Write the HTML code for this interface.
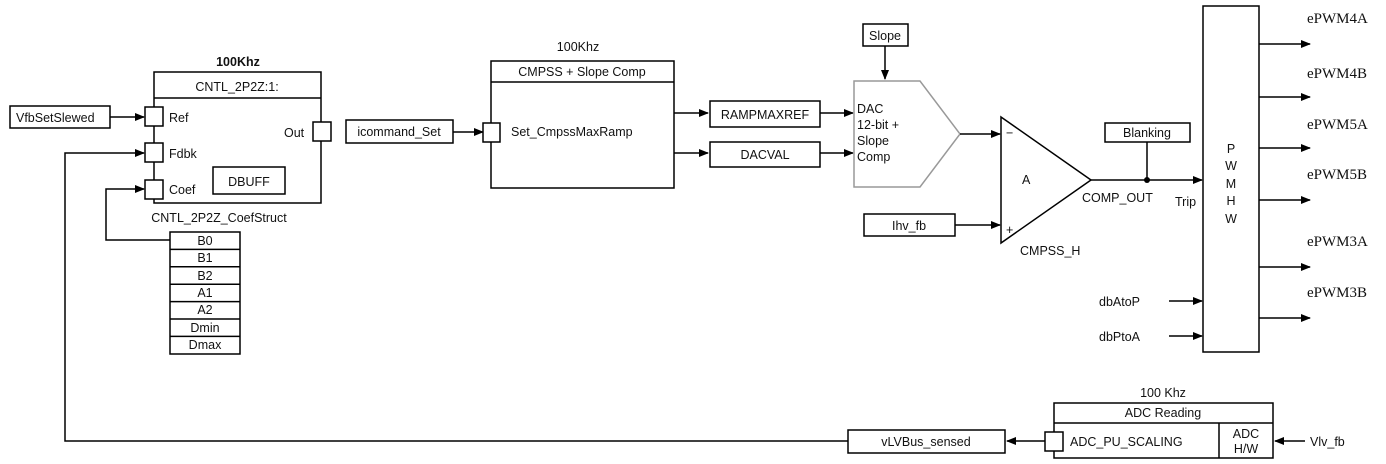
<!DOCTYPE html>
<html><head><style>body{margin:0;background:#fff}svg{display:block}text{font-family:"Liberation Sans",sans-serif;font-size:12.5px;fill:#111}.s{font-family:"Liberation Serif",serif;font-size:15px}</style></head><body>
<svg width="1386" height="464" viewBox="0 0 1386 464" xmlns="http://www.w3.org/2000/svg">
<defs><marker id="a" markerWidth="10" markerHeight="8" refX="9" refY="4" orient="auto" markerUnits="userSpaceOnUse"><path d="M0,0 L10,4 L0,8z" fill="#000"/></marker></defs>
<g fill="none" stroke="#000" stroke-width="1.5">
<rect x="10" y="106" width="100" height="22"/>
<line x1="110" y1="117" x2="144" y2="117" marker-end="url(#a)"/>
<rect x="154" y="72" width="167" height="131"/><line x1="154" y1="98" x2="321" y2="98"/>
<rect x="145" y="107" width="18" height="19" fill="#fff"/>
<rect x="145" y="143" width="18" height="19" fill="#fff"/>
<rect x="145" y="180" width="18" height="19" fill="#fff"/>
<rect x="313" y="122" width="18" height="19" fill="#fff"/>
<rect x="213" y="167" width="72" height="27"/>
<polyline points="170,240 106,240 106,189 144,189" marker-end="url(#a)"/>
<rect x="170" y="232" width="70" height="122"/>
<line x1="170" y1="249.4" x2="240" y2="249.4"/><line x1="170" y1="266.8" x2="240" y2="266.8"/><line x1="170" y1="284.2" x2="240" y2="284.2"/><line x1="170" y1="301.6" x2="240" y2="301.6"/><line x1="170" y1="319" x2="240" y2="319"/><line x1="170" y1="336.4" x2="240" y2="336.4"/>
<polyline points="848,441 65,441 65,153 144,153" marker-end="url(#a)"/>
<rect x="848" y="430" width="157" height="23"/>
<line x1="1045" y1="441" x2="1007" y2="441" marker-end="url(#a)"/>
<rect x="1054" y="403" width="219" height="55"/><line x1="1054" y1="423" x2="1273" y2="423"/><line x1="1219" y1="423" x2="1219" y2="458"/>
<rect x="1045" y="432" width="18" height="19" fill="#fff"/>
<line x1="1305" y1="441" x2="1275" y2="441" marker-end="url(#a)"/>
<rect x="346" y="120" width="107" height="23"/>
<line x1="453" y1="132" x2="483" y2="132" marker-end="url(#a)"/>
<rect x="491" y="61" width="183" height="127"/><line x1="491" y1="82" x2="674" y2="82"/>
<rect x="483" y="123" width="17" height="19" fill="#fff"/>
<line x1="674" y1="113" x2="708" y2="113" marker-end="url(#a)"/>
<line x1="674" y1="153" x2="708" y2="153" marker-end="url(#a)"/>
<rect x="710" y="101" width="110" height="26"/><rect x="710" y="142" width="110" height="25"/>
<line x1="820" y1="113" x2="853" y2="113" marker-end="url(#a)"/>
<line x1="820" y1="153" x2="853" y2="153" marker-end="url(#a)"/>
<polygon points="854,81 920,81 960,134 920,187 854,187" stroke="#999"/>
<rect x="863" y="24" width="45" height="22"/>
<line x1="885" y1="46" x2="885" y2="79" marker-end="url(#a)"/>
<line x1="960" y1="134" x2="1000" y2="134" marker-end="url(#a)"/>
<polygon points="1001,117 1091,180 1001,243"/>
<rect x="864" y="214" width="91" height="22"/>
<line x1="955" y1="225" x2="1000" y2="225" marker-end="url(#a)"/>
<line x1="1091" y1="180" x2="1202" y2="180" marker-end="url(#a)"/>
<rect x="1105" y="123" width="85" height="19"/><line x1="1147" y1="142" x2="1147" y2="180"/>
<rect x="1203" y="6" width="56" height="346"/>
<line x1="1259" y1="44" x2="1310" y2="44" marker-end="url(#a)"/>
<line x1="1259" y1="97" x2="1310" y2="97" marker-end="url(#a)"/>
<line x1="1259" y1="148" x2="1310" y2="148" marker-end="url(#a)"/>
<line x1="1259" y1="200" x2="1310" y2="200" marker-end="url(#a)"/>
<line x1="1259" y1="267" x2="1310" y2="267" marker-end="url(#a)"/>
<line x1="1259" y1="318" x2="1310" y2="318" marker-end="url(#a)"/>
<line x1="1169" y1="301" x2="1202" y2="301" marker-end="url(#a)"/>
<line x1="1169" y1="336" x2="1202" y2="336" marker-end="url(#a)"/>
</g>
<circle cx="1147" cy="180" r="3" fill="#000"/>
<text x="16" y="122">VfbSetSlewed</text>
<text x="238" y="66" text-anchor="middle" font-weight="bold">100Khz</text>
<text x="237" y="91" text-anchor="middle">CNTL_2P2Z:1:</text>
<text x="169" y="122">Ref</text><text x="169" y="158">Fdbk</text><text x="169" y="194">Coef</text>
<text x="284" y="137">Out</text><text x="249" y="186" text-anchor="middle">DBUFF</text>
<text x="219" y="222" text-anchor="middle">CNTL_2P2Z_CoefStruct</text>
<g text-anchor="middle" font-size="12"><text x="205" y="245">B0</text><text x="205" y="262">B1</text><text x="205" y="280">B2</text><text x="205" y="297">A1</text><text x="205" y="314">A2</text><text x="205" y="332">Dmin</text><text x="205" y="349">Dmax</text></g>
<text x="399" y="136" text-anchor="middle">icommand_Set</text>
<text x="578" y="51" text-anchor="middle">100Khz</text>
<text x="582" y="76" text-anchor="middle">CMPSS + Slope Comp</text>
<text x="511" y="136">Set_CmpssMaxRamp</text>
<text x="765" y="119" text-anchor="middle">RAMPMAXREF</text>
<text x="765" y="159" text-anchor="middle">DACVAL</text>
<text x="885" y="40" text-anchor="middle">Slope</text>
<text x="857" y="113">DAC</text><text x="857" y="129">12-bit +</text><text x="857" y="145">Slope</text><text x="857" y="161">Comp</text>
<text x="909" y="230" text-anchor="middle">Ihv_fb</text>
<text x="1022" y="184">A</text><text x="1006" y="137">−</text><text x="1006" y="234" font-size="10">+</text>
<text x="1020" y="255">CMPSS_H</text><text x="1082" y="202">COMP_OUT</text><text x="1175" y="206">Trip</text>
<text x="1147" y="137" text-anchor="middle">Blanking</text>
<g text-anchor="middle"><text x="1231" y="153">P</text><text x="1231" y="170">W</text><text x="1231" y="188">M</text><text x="1231" y="205">H</text><text x="1231" y="223">W</text></g>
<text x="1099" y="306">dbAtoP</text><text x="1099" y="341">dbPtoA</text>
<g class="s"><text class="s" x="1307" y="23">ePWM4A</text><text class="s" x="1307" y="78">ePWM4B</text><text class="s" x="1307" y="129">ePWM5A</text><text class="s" x="1307" y="179">ePWM5B</text><text class="s" x="1307" y="246">ePWM3A</text><text class="s" x="1307" y="297">ePWM3B</text></g>
<text x="1163" y="397" text-anchor="middle">100 Khz</text>
<text x="1163" y="417" text-anchor="middle">ADC Reading</text>
<text x="1070" y="446">ADC_PU_SCALING</text>
<text x="1246" y="438" text-anchor="middle" font-size="12">ADC</text><text x="1246" y="453" text-anchor="middle" font-size="12">H/W</text>
<text x="926" y="446" text-anchor="middle">vLVBus_sensed</text>
<text x="1310" y="446">Vlv_fb</text>
</svg></body></html>
